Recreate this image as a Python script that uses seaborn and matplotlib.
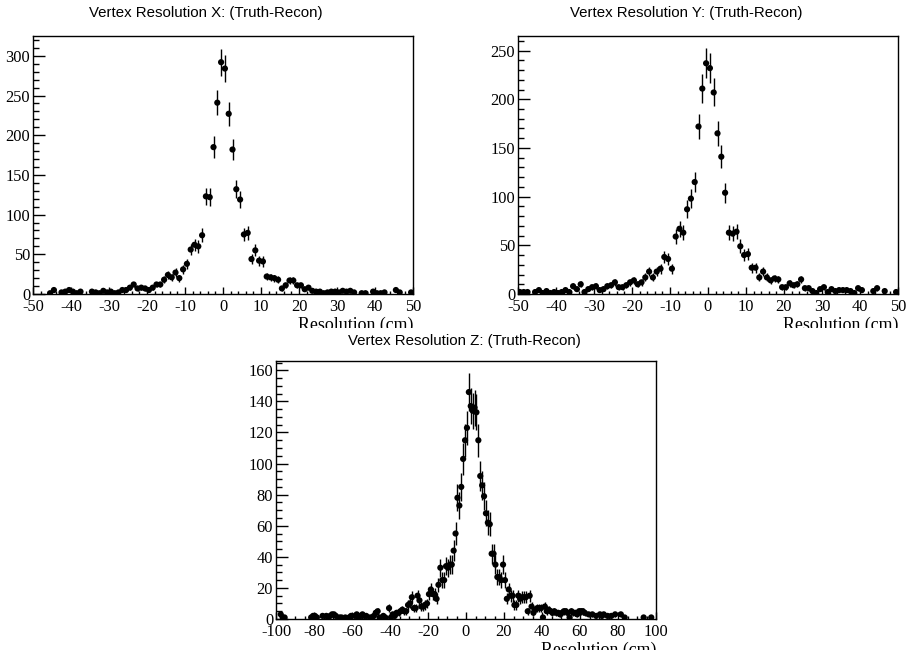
import numpy as np
import pandas as pd
import matplotlib
matplotlib.use("Agg")
import matplotlib.pyplot as plt
import seaborn as sns
from matplotlib.ticker import MultipleLocator
from matplotlib.transforms import Bbox, TransformedBbox

W, H = 907, 658

# Histogram contents, 1 cm bins over [-50, 50] for X and Y
x_counts = [
    0, 0, 0, 0, 1, 5, 0, 2, 3, 5,
    3, 1, 3, 0, 0, 3, 2, 1, 4, 2,
    3, 1, 2, 5, 5, 8, 12, 7, 8, 7,
    5, 8, 12, 12, 18, 24, 21, 27, 20, 31,
    38, 56, 62, 60, 74, 123, 122, 185, 241, 292,
    284, 227, 182, 132, 119, 75, 77, 44, 55, 42,
    41, 22, 21, 20, 18, 7, 11, 17, 17, 11,
    11, 6, 8, 4, 3, 3, 1, 2, 3, 3,
    2, 4, 3, 4, 2, 0, 1, 1, 0, 3,
    1, 1, 2, 0, 0, 5, 2, 0, 0, 2,
]
y_counts = [
    2, 2, 2, 0, 2, 4, 1, 3, 1, 2,
    1, 2, 4, 2, 8, 5, 10, 2, 5, 7,
    8, 4, 5, 8, 9, 12, 7, 7, 9, 12,
    14, 10, 12, 17, 23, 17, 23, 26, 38, 36,
    26, 59, 67, 63, 87, 98, 115, 172, 211, 237,
    232, 207, 165, 141, 104, 63, 62, 64, 49, 40,
    41, 27, 27, 17, 23, 17, 14, 16, 15, 7,
    7, 11, 9, 10, 15, 6, 6, 3, 1, 5,
    7, 2, 5, 3, 4, 4, 4, 3, 1, 6,
    4, 0, 0, 3, 6, 0, 3, 0, 0, 2,
]
# 1 cm bins over [-100, 100] for Z
z_counts = [
    0, 0, 3, 1, 1, 0, 0, 0, 0, 0,
    0, 0, 0, 0, 0, 0, 0, 0, 1, 2,
    2, 1, 0, 0, 2, 0, 2, 1, 2, 3,
    3, 2, 0, 1, 1, 0, 1, 0, 1, 2,
    0, 2, 3, 1, 2, 3, 2, 2, 0, 1,
    1, 2, 4, 5, 1, 0, 2, 1, 0, 7,
    1, 3, 2, 4, 4, 5, 6, 5, 5, 9,
    10, 14, 7, 7, 15, 12, 8, 8, 9, 10,
    16, 19, 16, 16, 13, 22, 33, 25, 25, 34,
    33, 35, 35, 44, 55, 78, 73, 85, 103, 115,
    123, 146, 137, 134, 136, 133, 115, 92, 86, 79,
    68, 62, 61, 42, 42, 35, 27, 27, 25, 35,
    25, 13, 19, 15, 15, 9, 9, 15, 13, 14,
    14, 14, 5, 15, 8, 4, 6, 7, 7, 7,
    1, 8, 5, 6, 5, 4, 5, 4, 4, 3,
    4, 5, 5, 4, 1, 5, 4, 4, 3, 5,
    5, 5, 4, 0, 3, 0, 3, 0, 2, 0,
    3, 2, 3, 0, 2, 0, 2, 0, 3, 0,
    0, 3, 0, 1, 0, 0, 0, 0, 0, 0,
    0, 0, 0, 1, 0, 0, 0, 1, 0, 0,
]

titles = [
    "Vertex Resolution X: (Truth-Recon)",
    "Vertex Resolution Y: (Truth-Recon)",
    "Vertex Resolution Z: (Truth-Recon)",
]
x_title = "Resolution (cm)"

sns.set_theme(style="ticks")
plt.rcParams.update({
    "font.family": ["Liberation Serif", "DejaVu Serif"],
    "axes.unicode_minus": False,
    "axes.linewidth": 1.0,
    "axes.edgecolor": "black",
    "xtick.color": "black",
    "ytick.color": "black",
    "figure.facecolor": "white",
    "axes.facecolor": "white",
})

fig = plt.figure(figsize=(W / 100, H / 100), dpi=100)


def frame(l, t, r, b, z=1):
    ax = fig.add_axes([l / W, 1 - b / H, (r - l) / W, (b - t) / H])
    ax.set_zorder(z)
    return ax


def fig_y(py):
    return 1 - py / H


def draw_hist(ax, lo, hi, counts, ymax, xmaj, xmin, ymaj, ymin):
    counts = np.asarray(counts, dtype=float)
    width = (hi - lo) / len(counts)
    centers = lo + width * (np.arange(len(counts)) + 0.5)
    df = pd.DataFrame({"x": centers, "n": counts})
    df = df[df["n"] > 0]
    ax.errorbar(df["x"], df["n"], yerr=np.sqrt(df["n"]), fmt="none",
                ecolor="black", elinewidth=1.0, capsize=0, zorder=2)
    sns.scatterplot(data=df, x="x", y="n", ax=ax, color="black", s=20,
                    edgecolor="none", linewidth=0, legend=False, zorder=3)
    ax.set_xlim(lo, hi)
    ax.set_ylim(0, ymax)
    ax.set_xlabel("")
    ax.set_ylabel("")
    ax.xaxis.set_major_locator(MultipleLocator(xmaj))
    ax.xaxis.set_minor_locator(MultipleLocator(xmin))
    ax.yaxis.set_major_locator(MultipleLocator(ymaj))
    ax.yaxis.set_minor_locator(MultipleLocator(ymin))
    ax.tick_params(axis="both", which="both", direction="in", width=1,
                   top=False, right=False, labelsize=11.8)
    ax.tick_params(axis="y", which="major", length=8.6, pad=2)
    ax.tick_params(axis="y", which="minor", length=4.3)
    ax.tick_params(axis="x", which="major", length=5.0, pad=3.5)
    ax.tick_params(axis="x", which="minor", length=2.5)
    for s in ax.spines.values():
        s.set_visible(True)
        s.set_color("black")
        s.set_linewidth(1.0)


def axis_title(x_right, baseline, clip_bottom):
    t = fig.text(x_right / W, fig_y(baseline), x_title, ha="right",
                 va="baseline", fontsize=12.9, color="black")
    box = TransformedBbox(Bbox.from_extents(0, fig_y(clip_bottom), 1, 1),
                          fig.transFigure)
    t.set_clip_box(box)
    t.set_clip_on(True)


# top-left: X
ax_x = frame(33, 36, 413, 294)
draw_hist(ax_x, -50, 50, x_counts, 325, 10, 2, 50, 10)
# top-right: Y
ax_y = frame(518, 36, 898, 294)
draw_hist(ax_y, -50, 50, y_counts, 265, 10, 2, 50, 10)
# bottom: Z
ax_z = frame(276, 361, 656, 619)
draw_hist(ax_z, -100, 100, z_counts, 166, 20, 5, 20, 5)

axis_title(413, 330, 328)
axis_title(898, 330, 328)
axis_title(656, 655, 650)

title_font = dict(family=["Liberation Sans", "DejaVu Sans"], fontsize=10.8,
                  color="black", ha="center", va="center")
fig.text(205.5 / W, fig_y(13.5), titles[0], **title_font)
fig.text(686.5 / W, fig_y(13.5), titles[1], **title_font)
fig.text(464 / W, fig_y(341), titles[2], **title_font)

fig.savefig("out.png", dpi=100)
